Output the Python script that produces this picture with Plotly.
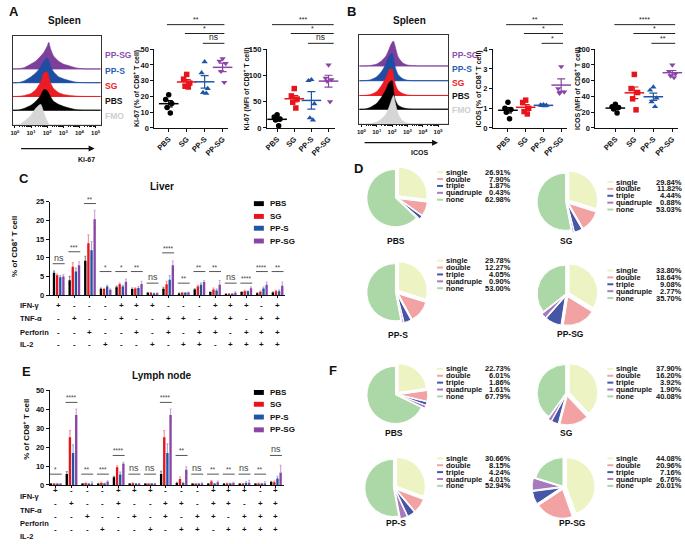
import numpy as np
import plotly.graph_objects as go

W, H = 685, 544
FONT = "Liberation Sans, Arial, Helvetica, sans-serif"
INK = "#111111"


def X(p):
    return p / W


def Y(p):
    return 1 - p / H


# ======================= DATA =======================
groups = ["PBS", "SG", "PP-S", "PP-SG"]
hist_samples = ["PP-SG", "PP-S", "SG", "PBS", "FMO"]

# flow histograms: log10 intensity grid and estimated heights
hist_grid = [0.2, 0.6, 1.0, 1.3, 1.6, 1.8, 2.0, 2.1, 2.2, 2.4, 2.7, 3.0, 3.4, 3.8, 4.3]
ki67_hist_ppsg = [0, 1.5, 5, 8, 13, 17, 23, 27, 21, 13, 8, 5, 3, 1, 0]
ki67_hist_pps = [0, 2, 6, 10, 16, 22, 25, 22, 17, 11, 6, 4, 2, 0.5, 0]
ki67_hist_sg = [0, 1, 3, 7, 15, 24, 25, 20, 14, 8, 4, 2, 1, 0.3, 0]
ki67_hist_pbs = [0, 2, 5, 9, 15, 21, 20, 17, 14, 9, 6, 4, 2, 0.5, 0]
ki67_hist_fmo = [0, 4, 10, 17, 21, 12, 4, 1, 0, 0, 0, 0, 0, 0, 0]
icos_hist_ppsg = [0, 0.5, 2, 5, 10, 17, 24, 25, 20, 9, 3, 1, 0.3, 0, 0]
icos_hist_pps = [0, 1, 4, 9, 17, 25, 28, 22, 14, 6, 2, 0.5, 0, 0, 0]
icos_hist_sg = [0, 1, 4, 10, 18, 26, 27, 20, 12, 5, 2, 0.5, 0, 0, 0]
icos_hist_pbs = [0, 2, 6, 12, 20, 27, 29, 18, 10, 4, 1.5, 0.5, 0, 0, 0]
icos_hist_fmo = [0, 0.5, 2, 5, 10, 17, 26, 29, 22, 10, 3, 1, 0, 0, 0]
hist_tick_vals = [0, 1, 2, 3, 4, 5]
hist_tick_text = ["10<sup>0</sup>", "10<sup>1</sup>", "10<sup>2</sup>",
                  "10<sup>3</sup>", "10<sup>4</sup>", "10<sup>5</sup>"]

# dot plots (individual mice)
ki67_pct_pbs = [21, 18, 15.5, 13, 9.5]
ki67_pct_sg = [34, 31, 28.5, 26.5, 26]
ki67_pct_pps = [42, 35, 25, 22.5, 22]
ki67_pct_ppsg = [44, 42.5, 41, 36, 29]
ki67_mfi_pbs = [25, 21, 17, 15, 4]
ki67_mfi_sg = [75, 61, 55, 49, 38]
ki67_mfi_pps = [92, 90, 46, 19, 15]
ki67_mfi_ppsg = [120, 95, 92, 89, 50]
icos_pct_pbs = [1.3, 1.0, 0.93, 0.8, 0.46]
icos_pct_sg = [1.41, 1.29, 1.0, 0.83, 0.71]
icos_pct_pps = [1.18, 1.16, 1.15, 1.13, 1.12]
icos_pct_ppsg = [3.12, 2.0, 1.83, 1.76]
icos_mfi_pbs = [30, 27, 26, 24, 19]
icos_mfi_sg = [68, 50, 45, 37, 23]
icos_mfi_pps = [52, 48, 38, 33, 27]
icos_mfi_ppsg = [80, 72, 69, 66, 64]

# cytokine combination bars
combo_rows = ["IFN-γ", "TNF-α", "Perforin", "IL-2"]
ifn_signs = ["+", "-", "-", "-", "+", "+", "+", "-", "-", "-", "+", "+", "+", "-", "+"]
tnf_signs = ["-", "+", "-", "-", "+", "-", "-", "+", "+", "-", "+", "+", "-", "+", "+"]
perf_signs = ["-", "-", "+", "-", "-", "+", "-", "+", "-", "+", "+", "-", "+", "+", "+"]
il2_signs = ["-", "-", "-", "+", "-", "-", "+", "-", "+", "+", "-", "+", "+", "+", "+"]

liver_pbs = [6.0, 4.0, 9.2, 1.7, 2.1, 1.6, 0.6, 1.7, 0.45, 1.5, 0.8, 0.25, 0.8, 0.5, 0.7]
liver_pbs_err = [0.4, 1.0, 1.2, 0.2, 0.3, 0.3, 0.1, 0.4, 0.1, 0.2, 0.1, 0.05, 0.1, 0.1, 0.1]
liver_sg = [5.3, 7.6, 13.9, 1.6, 2.9, 1.75, 0.6, 2.9, 0.6, 2.3, 1.5, 0.35, 1.05, 0.9, 1.05]
liver_sg_err = [0.3, 1.1, 2.2, 0.2, 0.3, 0.2, 0.1, 0.8, 0.1, 0.3, 0.4, 0.05, 0.2, 0.2, 0.2]
liver_pps = [4.8, 6.3, 12.0, 2.3, 2.3, 1.9, 0.45, 4.1, 0.6, 2.8, 1.2, 0.3, 1.0, 1.75, 1.05]
liver_pps_err = [0.4, 0.9, 2.3, 0.3, 0.3, 0.4, 0.1, 1.1, 0.1, 0.4, 0.4, 0.05, 0.1, 0.4, 0.3]
liver_ppsg = [5.0, 8.0, 20.3, 1.4, 3.6, 3.0, 0.5, 8.0, 0.7, 3.5, 2.8, 0.6, 1.8, 2.8, 2.5]
liver_ppsg_err = [0.5, 0.9, 2.4, 0.3, 0.7, 0.7, 0.1, 1.1, 0.1, 0.4, 1.1, 0.3, 0.4, 0.7, 1.0]
liver_sig = ["ns", "***", "**", "*", "*", "**", "ns", "****", "**", "**", "**", "ns", "****", "****", "**"]
liver_sig_level = [8.4, 11.6, 24.5, 6.3, 6.3, 6.3, 3.2, 11.3, 3.2, 6.3, 6.3, 3.2, 3.2, 6.3, 6.3]

lymph_pbs = [0.5, 5.8, 0.5, 0.3, 4.0, 0.5, 0.3, 5.8, 1.0, 0.3, 0.4, 0.4, 0.3, 0.3, 1.6]
lymph_pbs_err = [0.1, 1.3, 0.1, 0.1, 0.5, 0.1, 0.1, 1.4, 0.4, 0.1, 0.1, 0.1, 0.1, 0.1, 0.3]
lymph_sg = [0.5, 25.2, 0.9, 1.0, 9.3, 0.9, 0.4, 25.2, 3.1, 0.3, 1.8, 0.7, 0.4, 0.8, 1.4]
lymph_sg_err = [0.1, 3.5, 0.2, 0.5, 0.8, 0.2, 0.1, 3.5, 1.1, 0.1, 0.5, 0.2, 0.1, 0.2, 0.6]
lymph_pps = [0.3, 16.9, 0.3, 0.6, 5.5, 0.5, 0.5, 16.9, 1.0, 0.3, 0.5, 0.6, 1.0, 0.5, 3.4]
lymph_pps_err = [0.1, 4.3, 0.1, 0.2, 1.3, 0.1, 0.1, 4.8, 0.4, 0.1, 0.1, 0.2, 0.6, 0.1, 1.1]
lymph_ppsg = [0.3, 37.0, 0.8, 1.7, 11.2, 0.4, 0.4, 37.0, 8.0, 0.8, 1.4, 1.0, 1.2, 0.9, 6.5]
lymph_ppsg_err = [0.1, 3.2, 0.8, 0.4, 0.8, 0.1, 0.1, 3.2, 1.6, 0.3, 0.6, 0.4, 1.2, 0.9, 3.8]
lymph_sig = ["*", "****", "**", "***", "****", "ns", "ns", "****", "**", "ns", "**", "**", "ns", "**", "ns"]
lymph_sig_level = [5.7, 43.7, 5.7, 5.7, 15.6, 5.7, 5.7, 43.7, 15.6, 5.7, 5.7, 5.7, 5.7, 5.7, 15.6]

# pies: polyfunctionality fractions (%)
pie_cats = ["single", "double", "triple", "quadruple", "none"]
liver_pie_pbs = [26.91, 7.90, 1.87, 0.43, 62.98]
liver_pie_sg = [29.84, 11.82, 4.44, 0.88, 53.03]
liver_pie_pps = [29.78, 12.27, 4.05, 0.90, 53.00]
liver_pie_ppsg = [33.80, 18.64, 9.08, 2.77, 35.70]
lymph_pie_pbs = [22.73, 6.01, 1.86, 1.61, 67.79]
lymph_pie_sg = [37.90, 16.20, 3.92, 1.90, 40.08]
lymph_pie_pps = [30.66, 8.15, 4.24, 4.01, 52.94]
lymph_pie_ppsg = [44.08, 20.96, 7.16, 6.76, 20.01]

# ======================= STYLE =======================
grp_color = {"PBS": "#000000", "SG": "#e8141c", "PP-S": "#1f55a5", "PP-SG": "#8a46a6"}
grp_err = {"PBS": "rgba(0,0,0,0.45)", "SG": "rgba(232,20,28,0.45)",
           "PP-S": "rgba(31,85,165,0.45)", "PP-SG": "rgba(138,70,166,0.45)"}
grp_symbol = {"PBS": "circle", "SG": "square", "PP-S": "triangle-up", "PP-SG": "triangle-down"}
hist_color = {"PP-SG": "#7d3f9c", "PP-S": "#1d4ea3", "SG": "#ec1c24", "PBS": "#000000", "FMO": "#d6d6d6"}
label_color = {"PP-SG": "#8a4fab", "PP-S": "#2a5db2", "SG": "#ec1c24", "PBS": "#111111", "FMO": "#cfcfcf"}
pie_colors = ["#eef3c3", "#f2a2a2", "#4556a6", "#a77bbb", "#acd8a8"]
pie_pull = [0.1, 0.1, 0.1, 0.1, 0.03]
jitter = [0.0, -0.17, 0.17, -0.09, 0.09]

fig = go.Figure()
shapes = []
annotations = []


def text(xp, yp, s, size=8, color=INK, bold=True, xanchor="center", yanchor="middle", angle=0):
    annotations.append(dict(x=X(xp), y=Y(yp), xref="paper", yref="paper",
                            text=(f"<b>{s}</b>" if bold else s), showarrow=False,
                            font=dict(family=FONT, size=size, color=color),
                            xanchor=xanchor, yanchor=yanchor, textangle=angle, borderpad=0))


def base_axis(**kw):
    d = dict(showgrid=False, zeroline=False, showline=True, linecolor=INK, linewidth=1,
             ticks="outside", ticklen=3, tickwidth=1, tickcolor=INK,
             tickfont=dict(family=FONT, size=7.5, color=INK), fixedrange=True)
    d.update(kw)
    return d


def bold(lst):
    return [f"<b>{v}</b>" for v in lst]


layout_axes = {}
minor_vals = [float(np.log10(k * 10 ** d)) for d in range(5) for k in range(2, 10)]

# ---------- histograms ----------
def add_hist(n, box, rng, bases, arrays):
    xa, ya = ("x", "y") if n == 1 else (f"x{n}", f"y{n}")
    for s, base, h in zip(hist_samples, bases, arrays):
        xs = [-1] + hist_grid + [7]
        fig.add_trace(go.Scatter(x=xs, y=[base] * len(xs), mode="lines",
                                 line=dict(color=hist_color[s], width=1),
                                 xaxis=xa, yaxis=ya, hoverinfo="skip", showlegend=False))
        fig.add_trace(go.Scatter(x=xs, y=[base + v for v in [0] + h + [0]], mode="lines",
                                 line=dict(color=hist_color[s], width=0.6, shape="spline", smoothing=0.6),
                                 fill="tonexty", fillcolor=hist_color[s],
                                 xaxis=xa, yaxis=ya, hoverinfo="skip", showlegend=False))
    kx = "xaxis" if n == 1 else f"xaxis{n}"
    ky = "yaxis" if n == 1 else f"yaxis{n}"
    layout_axes[kx] = base_axis(domain=[X(box[0]), X(box[1])], range=rng, anchor=ya,
                                mirror=True, linecolor="#333", tickvals=hist_tick_vals,
                                ticktext=bold(hist_tick_text), ticklen=2,
                                tickfont=dict(family=FONT, size=6, color=INK),
                                minor=dict(tickvals=minor_vals, ticklen=1.5, ticks="outside",
                                           tickcolor=INK))
    layout_axes[ky] = base_axis(domain=[Y(box[3]), Y(box[2])], range=[0, 90], anchor=xa,
                                mirror=True, linecolor="#333", ticks="", showticklabels=False)


add_hist(1, (10, 98, 33, 123), [-0.12, 5.31], [57, 43, 29, 15, 0],
         [ki67_hist_ppsg, ki67_hist_pps, ki67_hist_sg, ki67_hist_pbs, ki67_hist_fmo])
add_hist(4, (358, 447, 32, 122), [-0.13, 5.65], [59, 44, 29, 15, 0],
         [icos_hist_ppsg, icos_hist_pps, icos_hist_sg, icos_hist_pbs, icos_hist_fmo])

for s, yy in zip(hist_samples, [52, 68, 83, 99, 114]):
    text(101, yy, s, size=8.5, color=label_color[s], xanchor="left")
for s, yy in zip(hist_samples, [52, 66, 80, 94, 108]):
    text(450, yy, s, size=8.5, color=label_color[s], xanchor="left")

# arrows under histograms
for x0, x1, yy in [(17, 92, 147), (362, 437, 141)]:
    annotations.append(dict(x=X(x1), y=Y(yy), ax=-(x1 - x0), ay=0, xref="paper", yref="paper",
                            axref="pixel", ayref="pixel", showarrow=True, arrowhead=2,
                            arrowsize=1, arrowwidth=1.2, arrowcolor=INK, text=""))
text(84, 158, "Ki-67", size=7)
text(418, 151, "ICOS", size=7)


# ---------- dot plots ----------
def add_dots(n, xdom, xr, yr, ytv, data_lists, ytitle, title_x):
    xa, ya = f"x{n}", f"y{n}"
    for i, (g, vals) in enumerate(zip(groups, data_lists)):
        offs = jitter[:len(vals)]
        fig.add_trace(go.Scatter(x=[i + o for o in offs], y=vals, mode="markers",
                                 marker=dict(symbol=grp_symbol[g], size=5.5, color=grp_color[g]),
                                 xaxis=xa, yaxis=ya, cliponaxis=False, hoverinfo="skip",
                                 showlegend=False))
        m = float(np.mean(vals))
        sem = float(np.std(vals, ddof=1) / np.sqrt(len(vals)))
        fig.add_trace(go.Scatter(x=[i], y=[m], mode="markers",
                                 marker=dict(symbol="line-ew", size=14,
                                             line=dict(width=1.5, color=grp_color[g])),
                                 error_y=dict(type="data", array=[sem], color=grp_color[g],
                                              thickness=1.2, width=4),
                                 xaxis=xa, yaxis=ya, cliponaxis=False, hoverinfo="skip",
                                 showlegend=False))
    layout_axes[f"xaxis{n}"] = base_axis(domain=[X(xdom[0]), X(xdom[1])], range=xr, anchor=ya,
                                         tickvals=[0, 1, 2, 3], ticktext=bold(groups),
                                         tickangle=-45)
    layout_axes[f"yaxis{n}"] = base_axis(domain=[Y(126), Y(46)], range=yr, anchor=xa,
                                         tickvals=ytv, ticktext=bold(ytv))
    text(title_x, 86, ytitle, size=7, angle=-90)


add_dots(2, (152, 226), [-0.8, 3.3], [0, 50], [0, 10, 20, 30, 40, 50],
         [ki67_pct_pbs, ki67_pct_sg, ki67_pct_pps, ki67_pct_ppsg],
         "Ki-67 (% of CD8<sup>+</sup> T cell)", 134)
add_dots(3, (265, 333), [-0.6, 3.35], [0, 150], [0, 50, 100, 150],
         [ki67_mfi_pbs, ki67_mfi_sg, ki67_mfi_pps, ki67_mfi_ppsg],
         "Ki-67 (MFI of CD8<sup>+</sup> T cell)", 245)
add_dots(5, (492, 566), [-0.85, 3.3], [0, 4], [0, 1, 2, 3, 4],
         [icos_pct_pbs, icos_pct_sg, icos_pct_pps, icos_pct_ppsg],
         "ICOS (% of CD8<sup>+</sup> T cell)", 478)
add_dots(6, (595, 678), [-1.05, 3.3], [0, 100], [0, 20, 40, 60, 80, 100],
         [icos_mfi_pbs, icos_mfi_sg, icos_mfi_pps, icos_mfi_ppsg],
         "ICOS (MFI of CD8<sup>+</sup> T cell)", 577)


def sig_paper(xref, x0, x1, ypx, label, color="#222"):
    shapes.append(dict(type="line", xref=xref, yref="paper", x0=x0, x1=x1,
                       y0=Y(ypx), y1=Y(ypx), line=dict(color=color, width=1)))
    annotations.append(dict(xref=xref, yref="paper", x=(x0 + x1) / 2, y=Y(ypx - 0.5),
                            text=label, showarrow=False, yanchor="bottom", borderpad=0,
                            font=dict(family=FONT, size=8.5 if label == "ns" else 7, color=color)))


for xref, x0s, x1, labels in [("x2", [-0.1, 0.9, 1.9], 3.1, ["**", "*", "ns"]),
                              ("x3", [-0.3, 0.8, 1.8], 3.3, ["***", "*", "ns"]),
                              ("x5", [-0.1, 0.9, 1.9], 3.1, ["**", "*", "*"]),
                              ("x6", [-0.05, 0.95, 1.9], 3.15, ["****", "*", "**"])]:
    for x0, ypx, lab in zip(x0s, [21, 30, 40], labels):
        sig_paper(xref, x0, x1, ypx, lab)


# ---------- bar charts ----------
def add_bars(n, xdom, xr, ydom, yr, ytv, series, errs, sigs, sig_levels, table_y, legend_y, title, title_y, ytitle_x, ytitle_y):
    xa, ya = f"x{n}", f"y{n}"
    cats = list(range(len(series[0])))
    for g, vals, err in zip(groups, series, errs):
        fig.add_trace(go.Bar(x=cats, y=vals, marker=dict(color=grp_color[g], line=dict(width=0)),
                             error_y=dict(type="data", array=err, color=grp_err[g],
                                          thickness=1.2, width=1),
                             xaxis=xa, yaxis=ya, hoverinfo="skip", showlegend=False))
    layout_axes[f"xaxis{n}"] = base_axis(domain=[X(xdom[0]), X(xdom[1])], range=xr, anchor=ya,
                                         tickvals=cats, showticklabels=False, ticklen=2)
    layout_axes[f"yaxis{n}"] = base_axis(domain=[Y(ydom[0]), Y(ydom[1])], range=yr, anchor=xa,
                                         tickvals=ytv, ticktext=bold(ytv))
    for i, (lab, lev) in enumerate(zip(sigs, sig_levels)):
        shapes.append(dict(type="line", xref=xa, yref=ya, x0=i - 0.38, x1=i + 0.38,
                           y0=lev, y1=lev, line=dict(color="#555", width=1)))
        annotations.append(dict(xref=xa, yref=ya, x=i, y=lev, text=lab, showarrow=False,
                                yanchor="bottom", yshift=0, borderpad=0,
                                font=dict(family=FONT, size=9 if lab == "ns" else 6.5,
                                          color="#444")))
    for row, signs, yy in zip(combo_rows, [ifn_signs, tnf_signs, perf_signs, il2_signs], table_y):
        text(16, yy, row, size=7.5, xanchor="left")
        for i, s in enumerate(signs):
            annotations.append(dict(xref=xa, yref="paper", x=i, y=Y(yy), text=f"<b>{s}</b>",
                                    showarrow=False, font=dict(family=FONT, size=8, color=INK)))
    for g, yy in zip(groups, legend_y):
        shapes.append(dict(type="rect", xref="paper", yref="paper", x0=X(252), x1=X(262),
                           y0=Y(yy + 2.5), y1=Y(yy - 2.5), fillcolor=grp_color[g],
                           line=dict(width=0)))
        text(267, yy, g, size=8, xanchor="left")
    text(160, title_y, title, size=10)
    text(ytitle_x, ytitle_y, "% of CD8<sup>+</sup> T cell", size=8, angle=-90)


add_bars(7, (47, 283), [-0.57, 14.46], (296, 201), [0, 25], [0, 5, 10, 15, 20, 25],
         [liver_pbs, liver_sg, liver_pps, liver_ppsg],
         [liver_pbs_err, liver_sg_err, liver_pps_err, liver_ppsg_err],
         liver_sig, liver_sig_level, [307, 320, 334, 346], [203, 216, 228, 241],
         "Liver", 186, 11, 246)
add_bars(8, (47, 282), [-0.38, 14.5], (489, 393), [0, 50], [0, 10, 20, 30, 40, 50],
         [lymph_pbs, lymph_sg, lymph_pps, lymph_ppsg],
         [lymph_pbs_err, lymph_sg_err, lymph_pps_err, lymph_ppsg_err],
         lymph_sig, lymph_sig_level, [501, 515, 528, 541], [395, 407, 420, 433],
         "Lymph node", 378, 23, 432)

# ---------- pies ----------
pie_specs = [
    (liver_pie_pbs, "PBS", (395, 197), (395, 241), (436, 171), 511),
    (liver_pie_sg, "SG", (566, 201), (566, 241), (607, 181), 683),
    (liver_pie_pps, "PP-S", (395, 293), (397, 337), (436, 261), 511),
    (liver_pie_ppsg, "PP-SG", (566, 295), (570, 336), (607, 271), 683),
    (lymph_pie_pbs, "PBS", (395, 397), (393, 436), (436, 371), 511),
    (lymph_pie_sg, "SG", (566, 396), (566, 436), (607, 371), 683),
    (lymph_pie_pps, "PP-S", (393, 492), (395, 528), (436, 462), 511),
    (lymph_pie_ppsg, "PP-SG", (563, 491), (572, 528), (607, 462), 683),
]
half = 32
for vals, name, (cx, cy), (lx, ly), (dx, dy), pr in pie_specs:
    fig.add_trace(go.Pie(values=vals, labels=pie_cats, sort=False, direction="clockwise",
                         rotation=0, pull=pie_pull, textinfo="none", hoverinfo="skip",
                         showlegend=False,
                         marker=dict(colors=pie_colors, line=dict(color="white", width=1)),
                         domain=dict(x=[X(cx - half), X(cx + half)],
                                     y=[Y(cy + half), Y(cy - half)])))
    text(lx, ly, name, size=8.5)
    for k, (cat, v) in enumerate(zip(pie_cats, vals)):
        yy = dy + 7 * k
        shapes.append(dict(type="line", xref="paper", yref="paper", x0=X(dx), x1=X(dx + 6),
                           y0=Y(yy), y1=Y(yy), line=dict(color=pie_colors[k], width=2)))
        text(dx + 8, yy, cat, size=7.5, xanchor="left")
        text(pr, yy, f"{v:.2f}%", size=7.5, xanchor="right")

# ---------- panel letters & titles ----------
text(5, 8, "A", size=13, xanchor="left")
text(345, 8, "B", size=13, xanchor="left")
text(15, 177, "C", size=13, xanchor="left")
text(352, 167, "D", size=13, xanchor="left")
text(18, 374, "E", size=13, xanchor="left")
text(326, 373, "F", size=13, xanchor="left")
text(62, 17, "Spleen", size=10)
text(408, 17, "Spleen", size=10)

fig.update_layout(
    width=W, height=H, autosize=False,
    margin=dict(l=0, r=0, t=0, b=0),
    paper_bgcolor="white", plot_bgcolor="rgba(0,0,0,0)",
    showlegend=False, barmode="group", bargap=0.2, bargroupgap=0.25,
    font=dict(family=FONT, size=8, color=INK),
    shapes=shapes, annotations=annotations,
    **layout_axes,
)

fig.write_html("out.html", config={"displayModeBar": False},
               post_script="document.body.style.margin='0px';document.body.style.overflow='hidden';")
